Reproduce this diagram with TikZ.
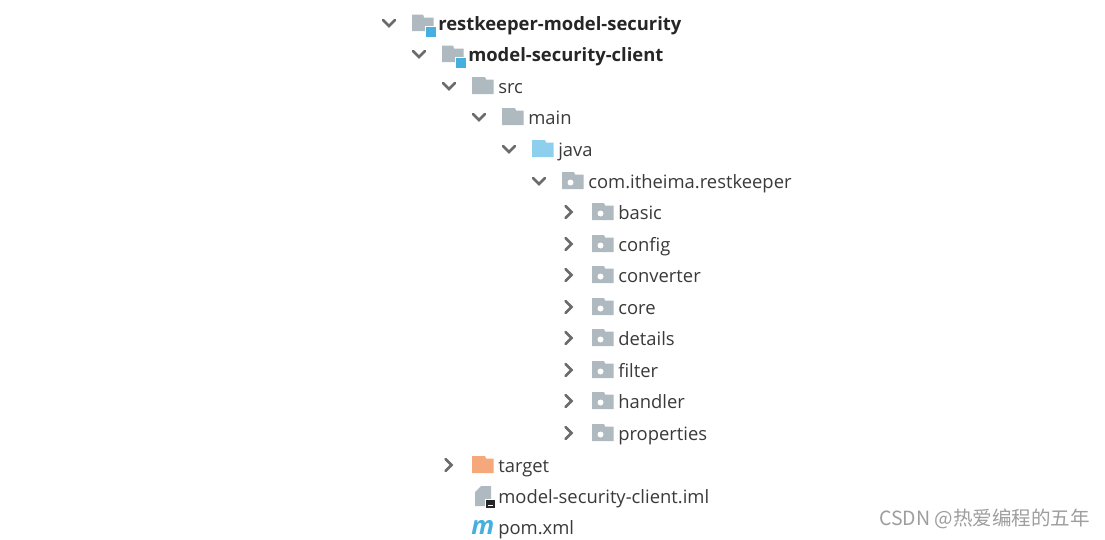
\documentclass[tikz,border=0pt]{standalone}
\usepackage{fontspec}
\setmainfont{Open Sans}
\newfontfamily\cjkwm{Noto Sans CJK SC}
\definecolor{fgray}{HTML}{AFB9C0}
\definecolor{fjava}{HTML}{8FCFEE}
\definecolor{ftarget}{HTML}{F4A87C}
\definecolor{mblue}{HTML}{45B0E0}
\definecolor{chev}{HTML}{6B6B6B}
\definecolor{txt}{HTML}{3A3A3A}
\tikzset{
  x=0.75pt,y=-0.75pt,
  label text/.style={anchor=base west,inner sep=0pt,text=txt,font=\fontsize{13.8pt}{16pt}\selectfont},
  bold text/.style={label text,text=black!85,font=\fontsize{13.8pt}{16pt}\selectfont\bfseries},
  chevron/.style={draw=chev,line width=1.9pt,line cap=round,line join=miter},
  pics/folder/.style={code={
    \fill[#1] (0,-9) -- (13,-9) -- (14,-6.5) -- (21.5,-6.5) -- (21.5,8) -- (0,8) -- cycle;
  }},
  pics/pkg/.style={code={
    \fill[fgray] (0,-9) -- (12,-9) -- (13,-6.5) -- (21.5,-6.5) -- (21.5,8) -- (0,8) -- cycle;
    \fill[white] (8.5,1.5) circle (3);
  }},
  pics/module/.style={code={
    \fill[fgray] (0,-8.5) -- (11,-8.5) -- (12,-5.5) -- (21.5,-5.5) -- (21.5,8) -- (0,8) -- cycle;
    \fill[white] (13,3) rectangle (24,14);
    \fill[mblue] (14,4) rectangle (23.5,13.5);
  }},
  pics/down/.style={code={\draw[chevron] (-6,-3) -- (0,3) -- (6,-3);}},
  pics/right/.style={code={\draw[chevron] (-3.5,-6) -- (2.5,0) -- (-3.5,6);}},
}
\newcommand\folderrow[6]{% name, chevron, icon pic, level x, y, text
  \pic at (#4-23,#5) {#2};
  \pic at (#4,#5) {#3};
  \node[label text] (#1) at (#4+26,#5+7) {#6};
}
\begin{document}
\begin{tikzpicture}
\useasboundingbox (0,0) rectangle (1105,539);
\fill[white] (0,0) rectangle (1105,539);
% module rows
\pic at (389,23) {down};
\pic at (412,23) {module};
\node[bold text] (root) at (438,30) {restkeeper-model-security};
\pic at (419,54) {down};
\pic at (442,54) {module};
\node[bold text] (client) at (468,61) {model-security-client};
% folders
\folderrow{src}{down}{folder=fgray}{472}{86}{src}
\folderrow{main}{down}{folder=fgray}{502}{117}{main}
\folderrow{java}{down}{folder=fjava}{532}{149}{java}
\folderrow{com}{down}{pkg}{562}{181}{com.itheima.restkeeper}
\folderrow{basic}{right}{pkg}{592}{212}{basic}
\folderrow{config}{right}{pkg}{592}{244}{config}
\folderrow{converter}{right}{pkg}{592}{275}{converter}
\folderrow{core}{right}{pkg}{592}{307}{core}
\folderrow{details}{right}{pkg}{592}{338}{details}
\folderrow{filter}{right}{pkg}{592}{370}{filter}
\folderrow{handler}{right}{pkg}{592}{401}{handler}
\folderrow{properties}{right}{pkg}{592}{433}{properties}
\folderrow{target}{right}{folder=ftarget}{472}{465}{target}
% iml file
\fill[fgray] (481,486) -- (491,486) -- (491,506) -- (475,506) -- (475,492) -- cycle;
\fill[white] (485,499) rectangle (496,509);
\fill[black!85] (486,500) rectangle (495,508);
\fill[white] (488,505) rectangle (493,506);
\node[label text] (iml) at (498,503) {model-security-client.iml};
% pom file
\node[anchor=base west,inner sep=0pt,text=mblue,font=\fontsize{19pt}{20pt}\selectfont\itshape\bfseries] (m) at (471,534) {m};
\node[label text] (pom) at (498,534) {pom.xml};
% watermark
\node[anchor=base west,inner sep=0pt,text=black!38,font=\cjkwm\fontsize{14.65pt}{16pt}\selectfont] (wm) at (879,525) {CSDN @热爱编程的五年};
\end{tikzpicture}
\end{document}
